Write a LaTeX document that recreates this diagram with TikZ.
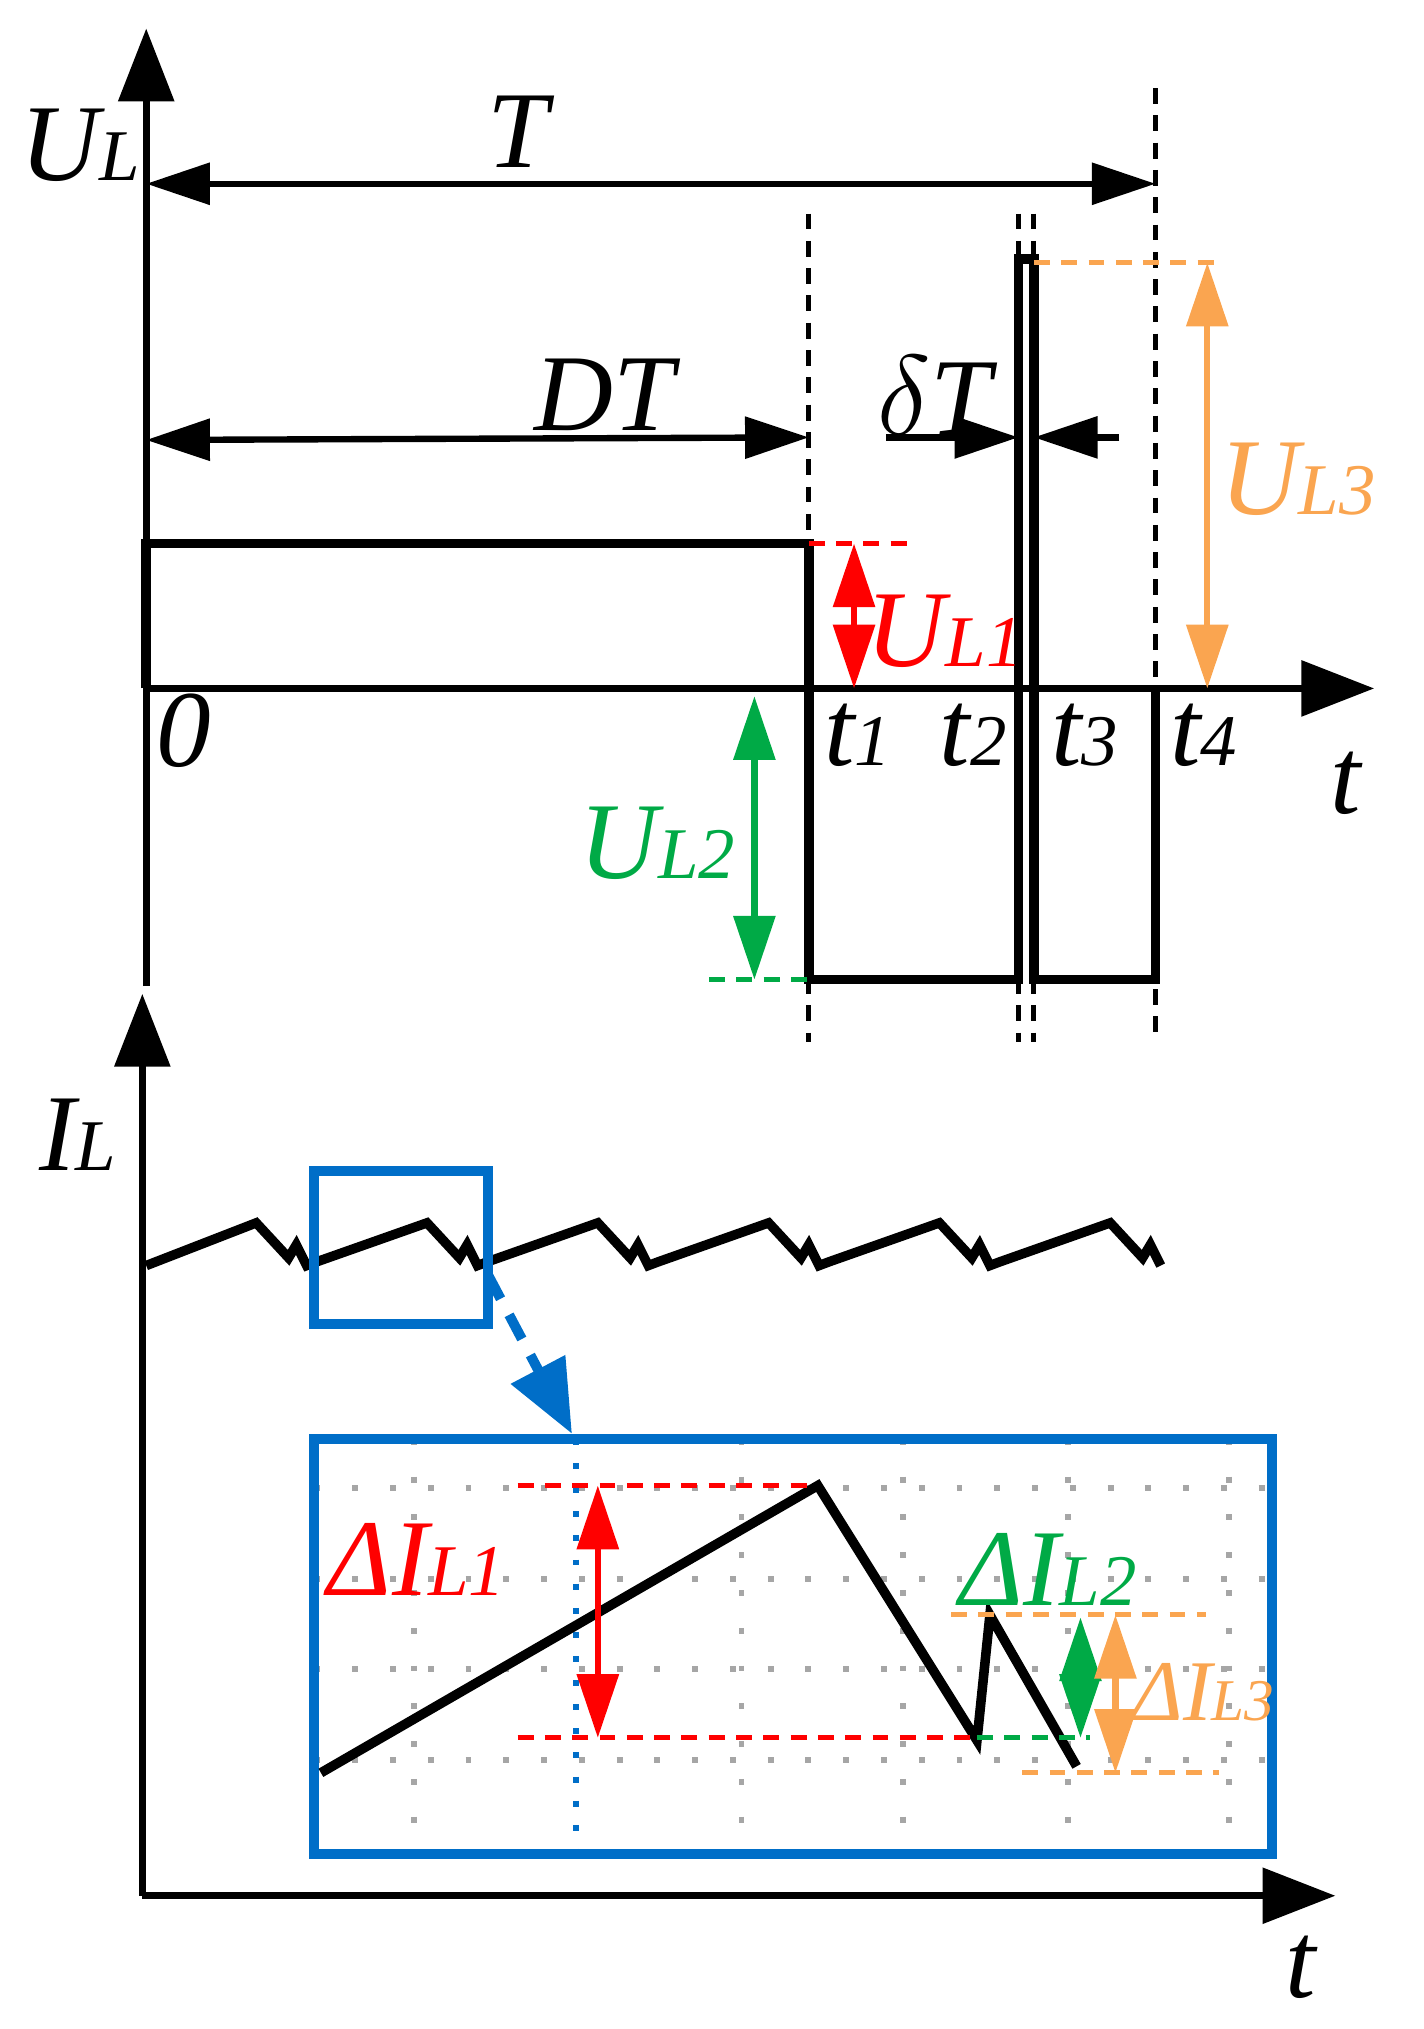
\documentclass[tikz,border=0pt]{standalone}
\usepackage{fontspec}
\setmainfont{Liberation Serif}
\usetikzlibrary{arrows.meta}
\definecolor{myred}{RGB}{255,0,0}
\definecolor{mygreen}{RGB}{0,170,70}
\definecolor{myorange}{RGB}{250,165,80}
\definecolor{myblue}{RGB}{0,110,200}
\newcommand{\bigtxt}[1]{{\fontsize{24}{26}\selectfont\itshape #1}}
\newcommand{\subtxt}[1]{{\fontsize{16}{18}\selectfont\itshape #1}}
\begin{document}
\begin{tikzpicture}[x=0.01cm,y=-0.01cm,
  ax/.style={line width=1.6pt,-{Triangle[length=16pt,width=12pt]}},
  dim/.style={line width=1.4pt,{Triangle[length=14pt,width=9pt]}-{Triangle[length=14pt,width=9pt]}},
  sarr/.style={line width=1.4pt,-{Triangle[length=14pt,width=9pt]}},
  vd/.style={line width=1.1pt,dash pattern=on 3.5pt off 2.5pt},
  wave/.style={line width=2.1pt,line join=miter},
  lbl/.style={inner sep=0pt}]
\useasboundingbox (0,0) rectangle (1100,1568);
% upper axes
\coordinate (o1) at (113,532);
\coordinate (ytop) at (113,22);
\coordinate (ybot) at (113,762);
\coordinate (xend) at (1062,532);
\draw[line width=1.6pt] (ybot) -- (o1);
\draw[ax] (o1) -- (ytop);
\draw[ax] (o1) -- (xend);
\node[lbl] (ul) at (62,112) {\bigtxt{U}\subtxt{L}};
\node[lbl] (tx1) at (1040,605) {\bigtxt{t}};
% dashed verticals
\foreach \x/\a in {625/165,787/165,799/165,893/68}
  \draw[vd] (\x,\a) -- (\x,805);
% T
\coordinate (Ta) at (113,142); \coordinate (Tb) at (893,142);
\draw[dim] (Ta) -- (Tb);
\node[lbl] (T) at (400,102) {\bigtxt{T}};
% DT
\coordinate (Da) at (113,340); \coordinate (Db) at (625,338);
\draw[dim] (Da) -- (Db);
\node[lbl] (DT) at (467,305) {\bigtxt{DT}};
% dT
\coordinate (d1) at (685,338); \coordinate (d2) at (787,338);
\coordinate (d3) at (865,338); \coordinate (d4) at (799,338);
\draw[sarr] (d1) -- (d2);
\draw[sarr] (d3) -- (d4);
\node[lbl] (dT) at (722,305) {\bigtxt{$\delta$T}};
% waveform
\draw[wave] (113,532) -- (113,420) -- (625,420) -- (625,757) -- (787,757) -- (787,200) -- (799,200) -- (799,757) -- (893,757) -- (893,532);
% UL1
\draw[vd,myred] (625,420) -- (705,420);
\coordinate (r1) at (660,420); \coordinate (r2) at (660,532);
\draw[dim,myred] (r1) -- (r2);
\node[lbl,myred] (ul1) at (730,488) {\bigtxt{U}\subtxt{L1}};
% UL2
\draw[vd,mygreen] (548,757) -- (625,757);
\coordinate (g1) at (583,538); \coordinate (g2) at (583,757);
\draw[dim,mygreen] (g1) -- (g2);
\node[lbl,mygreen] (ul2) at (508,652) {\bigtxt{U}\subtxt{L2}};
% UL3
\draw[vd,myorange] (799,203) -- (942,203);
\coordinate (o3a) at (933,203); \coordinate (o3b) at (933,532);
\draw[dim,myorange] (o3a) -- (o3b);
\node[lbl,myorange] (ul3) at (1003,370) {\bigtxt{U}\subtxt{L3}};
% time labels
\node[lbl] (l0) at (142,565) {\bigtxt{0}};
\node[lbl] (lt1) at (663,568) {\bigtxt{t}\subtxt{1}};
\node[lbl] (lt2) at (752,568) {\bigtxt{t}\subtxt{2}};
\node[lbl] (lt3) at (838,568) {\bigtxt{t}\subtxt{3}};
\node[lbl] (lt4) at (930,568) {\bigtxt{t}\subtxt{4}};
% lower axes
\coordinate (o2) at (110,1465);
\draw[ax] (o2) -- (110,768);
\draw[ax] (o2) -- (1032,1465);
\node[lbl] (il) at (60,877) {\bigtxt{I}\subtxt{L}};
\node[lbl] (tx2) at (1005,1520) {\bigtxt{t}};
% sawtooth
\draw[wave] (113,978)
 \foreach \x in {113,245,377,509,641,773} { -- (\x+85,945) -- (\x+110,972) -- (\x+116,962) -- (\x+124,978) \ifnum\x<773 -- (\x+132,975)\fi };
% small box and arrow
\draw[myblue,line width=2.2pt] (243,905) rectangle (377,1023);
\coordinate (ba) at (377,985); \coordinate (bb) at (442,1108);
\draw[myblue,line width=2.2pt,dash pattern=on 6pt off 4pt,-{Triangle[length=16pt,width=13pt]}] (ba) -- (bb);
% big box grid
\foreach \x in {320,573,698,825,950} \draw[gray!70,line width=1.3pt,dash pattern=on 1.3pt off 7pt] (\x,1112) -- (\x,1433);
\foreach \y in {1150,1220,1290,1360} \draw[gray!70,line width=1.3pt,dash pattern=on 1.3pt off 7pt] (243,\y) -- (983,\y);
\draw[myblue,line width=1.3pt,dash pattern=on 1.3pt off 4pt] (445,1112) -- (445,1433);
\draw[myblue,line width=2.2pt] (243,1112) rectangle (983,1433);
% zoom wave
\draw[wave] (248,1370) -- (632,1148) -- (755,1345) -- (765,1248) -- (832,1365);
% dIL1
\draw[vd,myred] (400,1148) -- (632,1148);
\draw[vd,myred] (400,1343) -- (755,1343);
\coordinate (e1) at (462,1148); \coordinate (e2) at (462,1343);
\draw[dim,myred] (e1) -- (e2);
\node[lbl,myred] (dil1) at (322,1205) {\bigtxt{ΔI}\subtxt{L1}};
% dIL2
\draw[vd,mygreen] (755,1343) -- (842,1343);
\coordinate (f1) at (835,1250); \coordinate (f2) at (835,1343);
\draw[dim,mygreen] (f1) -- (f2);
\node[lbl,mygreen] (dil2) at (810,1213) {\bigtxt{ΔI}\subtxt{L2}};
% dIL3
\draw[vd,myorange] (735,1248) -- (932,1248);
\draw[vd,myorange] (790,1370) -- (942,1370);
\coordinate (h1) at (862,1248); \coordinate (h2) at (862,1370);
\draw[dim,myorange] (h1) -- (h2);
\node[lbl,myorange] (dil3) at (930,1308) {{\fontsize{19}{21}\selectfont\itshape ΔI}{\fontsize{13}{15}\selectfont\itshape L3}};
\end{tikzpicture}
\end{document}
